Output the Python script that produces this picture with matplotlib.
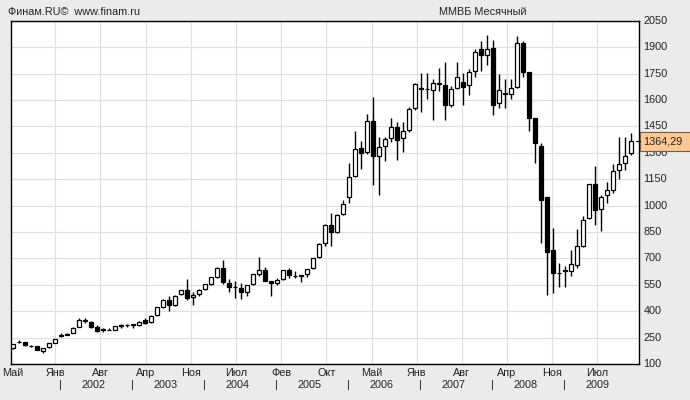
import numpy as np
import matplotlib
matplotlib.use("Agg")
import matplotlib.pyplot as plt
import matplotlib.transforms as mtransforms
from matplotlib.patches import Rectangle

# monthly MICEX candles, May 2001 .. Dec 2009
opens = [190, 225, 223, 203, 202, 176, 196, 221, 262, 267, 278, 312, 347, 338, 310, 294,
         292, 295, 323, 322, 324, 320, 350, 337, 376, 425, 463, 437, 496, 518, 478, 496,
         524, 556, 596, 647, 561, 536, 531, 508, 554, 614, 635, 571, 559, 582, 633, 600,
         606, 610, 645, 707, 786, 890, 849, 951, 1048, 1169, 1326, 1303, 1483, 1284, 1336, 1381,
         1445, 1383, 1430, 1553, 1660, 1662, 1654, 1693, 1686, 1572, 1667, 1701, 1682, 1762, 1889, 1853,
         1894, 1582, 1636, 1633, 1676, 1923, 1756, 1497, 1336, 1048, 745, 615, 635, 629, 663, 771,
         928, 1122, 979, 1061, 1089, 1203, 1241, 1298]
highs = [216, 238, 226, 208, 204, 193, 219, 244, 275, 275, 308, 360, 361, 342, 322, 307,
         303, 316, 326, 330, 330, 342, 360, 378, 424, 470, 486, 490, 522, 580, 510, 524,
         556, 594, 650, 692, 584, 574, 559, 550, 613, 709, 650, 572, 590, 635, 645, 626,
         608, 641, 703, 785, 893, 957, 950, 1030, 1240, 1426, 1367, 1520, 1619, 1388, 1392, 1497,
         1474, 1474, 1560, 1695, 1752, 1752, 1720, 1781, 1818, 1680, 1818, 1752, 1775, 1887, 1936, 1970,
         1942, 1747, 1720, 1720, 1964, 1935, 1760, 1500, 1355, 1050, 872, 673, 657, 745, 866, 938,
         1125, 1226, 1060, 1131, 1237, 1392, 1392, 1411]
lows = [186, 217, 205, 198, 178, 165, 193, 219, 256, 262, 275, 308, 335, 303, 283, 282,
        291, 293, 305, 312, 305, 318, 330, 333, 374, 420, 403, 430, 490, 465, 435, 485,
        520, 550, 590, 556, 508, 474, 469, 488, 550, 601, 570, 484, 548, 578, 590, 590,
        563, 594, 640, 700, 770, 773, 845, 945, 1013, 1160, 1208, 1290, 1118, 1061, 1254, 1360,
        1256, 1307, 1420, 1540, 1531, 1606, 1487, 1648, 1487, 1557, 1660, 1569, 1630, 1728, 1762, 1800,
        1512, 1553, 1553, 1606, 1665, 1730, 1421, 1241, 790, 493, 502, 540, 536, 601, 644, 765,
        925, 890, 853, 1017, 1074, 1150, 1203, 1288]
closes = [213, 226, 210, 202, 180, 191, 217, 242, 257, 269, 306, 350, 349, 312, 289, 296,
          293, 314, 318, 324, 326, 340, 333, 371, 422, 465, 437, 488, 520, 475, 492, 522,
          554, 592, 647, 563, 540, 535, 508, 548, 611, 633, 573, 559, 578, 633, 603, 599,
          601, 639, 701, 783, 890, 849, 947, 1008, 1165, 1320, 1301, 1483, 1284, 1331, 1378, 1445,
          1370, 1421, 1548, 1690, 1665, 1664, 1695, 1697, 1572, 1661, 1730, 1676, 1758, 1872, 1853, 1889,
          1572, 1658, 1638, 1667, 1923, 1756, 1497, 1355, 1033, 735, 616, 617, 630, 667, 771, 919,
          1122, 976, 1051, 1086, 1194, 1237, 1283, 1364.29]

month_labels = ["Май", "Янв", "Авг", "Апр", "Ноя", "Июл", "Фев", "Окт",
                "Май", "Янв", "Авг", "Апр", "Ноя", "Июл"]
years = ["2002", "2003", "2004", "2005", "2006", "2007", "2008", "2009"]
y_ticks = list(range(100, 2051, 150))

BG = "#ebebeb"
GRID = "#e0e0e0"
plt.rcParams["font.family"] = ["Liberation Sans", "DejaVu Sans"]

fig = plt.figure(figsize=(6.9, 4.0), dpi=100, facecolor=BG)
ax = fig.add_axes([10.7 / 690, 36 / 400, 628.6 / 690, 343.3 / 400])
ax.set_facecolor("white")

o = np.array(opens, dtype=float)
h = np.array(highs, dtype=float)
l = np.array(lows, dtype=float)
c = np.array(closes, dtype=float)
idx = np.arange(len(c))
up = c >= o

# grid: every 7.5 months, starting between Dec 2001 and Jan 2002
grid_x = 7.08 + 7.528 * np.arange(13)
for gx in grid_x:
    ax.axvline(gx, color=GRID, lw=0.9, zorder=0)
for yv in y_ticks:
    ax.axhline(yv, color=GRID, lw=0.9, zorder=0)

ax.vlines(idx, l, h, color="black", lw=1.0, zorder=2)
body_lo = np.minimum(o, c)
body_h = np.abs(c - o)
ax.bar(idx, body_h, bottom=body_lo, width=0.72, color=np.where(up, "white", "black"),
       edgecolor="black", linewidth=0.9, zorder=3)

ax.set_xlim(-0.35, 104.4)
ax.set_ylim(100, 2050)
ax.set_xticks([])
ax.set_yticks([])
for sp in ax.spines.values():
    sp.set_color("black")
    sp.set_linewidth(1.0)

# right-side price scale
rtrans = mtransforms.blended_transform_factory(ax.transAxes, ax.transData)
for yv in y_ticks:
    ax.text(1.0 + 4 / 628.6, yv, str(yv), transform=rtrans, ha="left", va="center",
            fontsize=7.8, color="#222222", clip_on=False)

# last price marker
last = closes[-1]
ax.add_patch(Rectangle((1.0 + 1 / 628.6, last - 54), 52 / 628.6, 108, transform=rtrans,
                       facecolor="#fcc894", edgecolor="#7a5a3a", lw=0.8, clip_on=False, zorder=5))
ax.plot([1.0 - 3 / 628.6, 1.0 + 1 / 628.6], [last, last], transform=rtrans, color="black",
        lw=0.8, clip_on=False, zorder=6)
ax.text(1.0 + 4 / 628.6, last, f"{last:.2f}".replace(".", ","), transform=rtrans,
        ha="left", va="center", fontsize=7.8, color="#222222", clip_on=False, zorder=7)

# month and year labels under the axis
xtrans = ax.get_xaxis_transform()
month_pos = np.concatenate([[0.0], grid_x])
for mx, lab in zip(month_pos, month_labels):
    ax.text(mx, -9 / 343.3, lab, transform=xtrans, ha="center", va="center",
            fontsize=7.8, color="#222222", clip_on=False)
for k, yr in enumerate(years):
    start = 8 + 12 * k
    ax.text(start, -21 / 343.3, "|", transform=xtrans, ha="center", va="center",
            fontsize=8, color="#222222", clip_on=False)
    ax.text(start + 5.5, -21 / 343.3, yr, transform=xtrans, ha="center", va="center",
            fontsize=7.8, color="#222222", clip_on=False)

fig.text(8 / 690, 1 - 12 / 400, "Финам.RU©  www.finam.ru", ha="left", va="center",
         fontsize=7.8, color="#222222")
fig.text(483 / 690, 1 - 12 / 400, "ММВБ Месячный", ha="center", va="center",
         fontsize=7.8, color="#222222")

fig.savefig("out.png", dpi=100, facecolor=BG)
